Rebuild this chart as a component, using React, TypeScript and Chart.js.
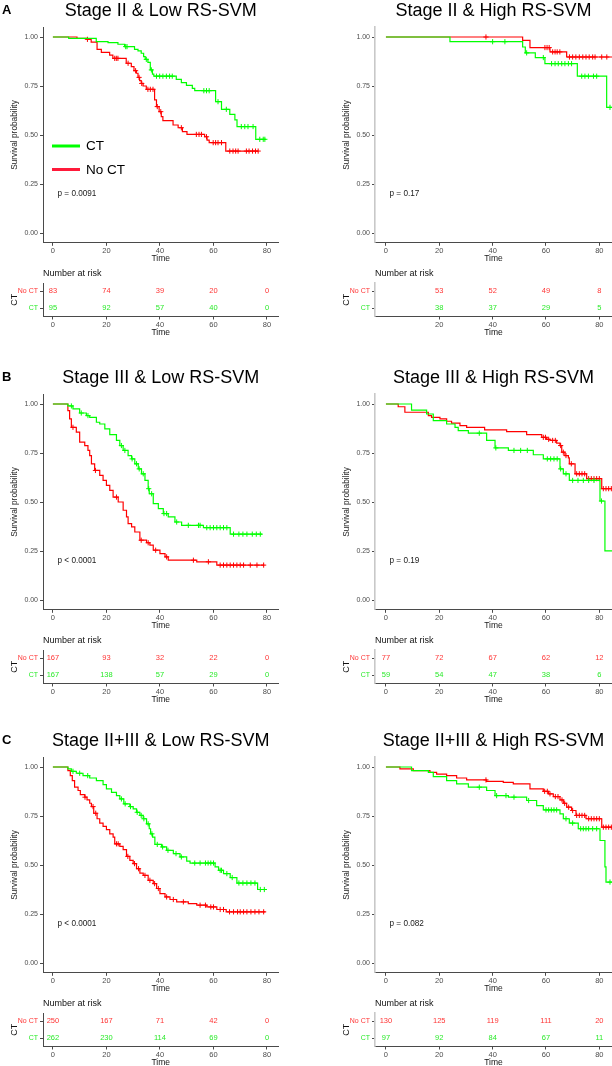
import React, { useEffect, useRef } from "react";
import { Chart, registerables } from "chart.js";
Chart.register(...registerables);

const FONT = "'Liberation Sans', Arial, Helvetica, sans-serif";
Chart.defaults.font.family = FONT;

const GREEN = "#00ff00";
const RED = "#ff0000";
const GREEN_TEXT = "#2bea2b";
const RED_TEXT = "#ff3535";
const AXIS_DARK = "#4a4a4a";
const AXIS_LIGHT = "#c8c8c8";
const TICK_TEXT = "#4d4d4d";

const TIME_TICKS = [0, 20, 40, 60, 80];
const TIME_TICKS_NO0 = [20, 40, 60, 80];
const SURV_TICKS = [0, 0.25, 0.5, 0.75, 1];
const GROUPS = ["No CT", "CT"];

// ---------- Panel A: Stage II & Low RS-SVM ----------
const A_LOW_CT_T = [5.9, 16.2, 20.6, 24.3, 26.8, 30.5, 31.8, 33.0, 33.9, 34.5, 35.5, 36.4, 37.2, 37.7, 46.1, 48.0, 49.9, 52.1, 53.0, 60.8, 63.0, 66.1, 68.0, 68.8, 75.8];
const A_LOW_CT_S = [0.993, 0.976, 0.971, 0.963, 0.951, 0.937, 0.929, 0.917, 0.9, 0.886, 0.871, 0.832, 0.811, 0.8, 0.784, 0.767, 0.753, 0.738, 0.726, 0.67, 0.631, 0.605, 0.577, 0.543, 0.478];
const A_LOW_CT_END = 79.5;
const A_LOW_CT_CENS = [27.2, 27.7, 34.9, 36.8, 38.7, 39.9, 41.1, 42.4, 43.6, 44.6, 56.4, 57.4, 58.4, 61.7, 64.8, 70.4, 71.7, 72.9, 74.8, 77.3, 78.6, 79.2];

const A_LOW_NOCT_T = [9.0, 12.7, 14.3, 16.5, 18.1, 21.2, 22.4, 27.4, 29.3, 30.3, 31.2, 31.8, 32.4, 33.0, 33.7, 34.9, 38.0, 38.7, 39.7, 40.5, 41.1, 44.9, 46.8, 48.4, 50.1, 56.7, 57.6, 58.4, 64.6];
const A_LOW_NOCT_S = [0.993, 0.988, 0.974, 0.937, 0.922, 0.908, 0.891, 0.866, 0.849, 0.828, 0.815, 0.794, 0.777, 0.763, 0.75, 0.733, 0.679, 0.645, 0.619, 0.594, 0.573, 0.551, 0.537, 0.517, 0.503, 0.491, 0.474, 0.461, 0.418];
const A_LOW_NOCT_END = 76.7;
const A_LOW_NOCT_CENS = [12.9, 23.1, 23.7, 24.3, 28.1, 30.9, 32.2, 33.2, 35.5, 36.4, 37.4, 39.0, 40.3, 48.0, 53.6, 54.6, 55.5, 57.4, 59.9, 60.8, 61.7, 63.0, 66.1, 67.3, 68.3, 69.2, 72.3, 73.3, 74.6, 75.7, 76.7];

const A_LOW_RISK_NOCT = [83, 74, 39, 20, 0];
const A_LOW_RISK_CT = [95, 92, 57, 40, 0];

// ---------- Panel A: Stage II & High RS-SVM ----------
const A_HIGH_CT_T = [24.0, 51.25, 52.25, 56.0, 59.6, 71.75, 82.75];
const A_HIGH_CT_S = [0.976, 0.949, 0.919, 0.895, 0.864, 0.8, 0.641];
const A_HIGH_CT_END = 84.8;
const A_HIGH_CT_CENS = [40.0, 44.6, 52.75, 59.0, 62.1, 63.4, 64.6, 65.9, 67.1, 68.4, 69.6, 73.4, 74.6, 75.9, 77.8, 79.0, 84.0];

const A_HIGH_NOCT_T = [51.25, 54.0, 61.5, 67.75];
const A_HIGH_NOCT_S = [0.983, 0.946, 0.924, 0.898];
const A_HIGH_NOCT_END = 84.8;
const A_HIGH_NOCT_CENS = [37.5, 59.6, 60.4, 61.2, 62.5, 63.4, 64.2, 65.2, 68.8, 70.0, 71.2, 72.5, 73.8, 75.0, 76.2, 77.5, 78.4, 80.9, 82.8];

const A_HIGH_RISK_NOCT = [53, 52, 49, 8];
const A_HIGH_RISK_CT = [38, 37, 29, 5];

// ---------- Panel B: Stage III & Low RS-SVM ----------
const B_LOW_CT_T = [5.6, 7.5, 10.0, 12.5, 13.75, 16.25, 17.5, 19.4, 21.25, 23.75, 25.0, 26.25, 28.1, 29.4, 30.6, 31.9, 33.1, 34.4, 35.6, 36.0, 37.5, 39.4, 41.25, 43.1, 45.6, 48.1, 56.25, 66.25];
const B_LOW_CT_S = [0.99, 0.975, 0.954, 0.941, 0.932, 0.907, 0.898, 0.873, 0.844, 0.814, 0.788, 0.763, 0.737, 0.72, 0.695, 0.669, 0.644, 0.61, 0.568, 0.542, 0.492, 0.466, 0.441, 0.424, 0.398, 0.381, 0.369, 0.336];
const B_LOW_CT_END = 78.1;
const B_LOW_CT_CENS = [6.9, 10.6, 13.1, 25.6, 26.9, 29.6, 31.25, 32.25, 33.75, 35.8, 36.9, 41.5, 42.5, 46.25, 50.6, 54.4, 55.0, 57.5, 58.75, 60.0, 61.25, 62.5, 63.75, 65.0, 67.5, 69.5, 71.0, 72.5, 74.5, 76.0, 77.5];

const B_LOW_NOCT_T = [5.6, 6.25, 6.9, 8.75, 10.0, 11.9, 13.1, 13.75, 14.4, 15.6, 17.5, 18.75, 20.0, 21.25, 22.5, 24.4, 26.25, 27.5, 28.1, 29.4, 30.6, 32.5, 35.0, 36.25, 37.5, 40.0, 41.9, 43.1, 53.75, 61.25];
const B_LOW_NOCT_S = [0.966, 0.924, 0.881, 0.856, 0.805, 0.788, 0.763, 0.737, 0.695, 0.661, 0.636, 0.61, 0.585, 0.559, 0.525, 0.5, 0.458, 0.424, 0.39, 0.373, 0.347, 0.305, 0.292, 0.28, 0.254, 0.237, 0.22, 0.203, 0.195, 0.178];
const B_LOW_NOCT_END = 79.0;
const B_LOW_NOCT_CENS = [7.5, 15.9, 23.75, 33.0, 35.6, 38.4, 42.5, 52.5, 58.1, 62.5, 63.75, 65.0, 66.25, 67.5, 68.75, 70.0, 71.25, 73.75, 76.25, 78.75];

const B_LOW_RISK_NOCT = [167, 93, 32, 22, 0];
const B_LOW_RISK_CT = [167, 138, 57, 29, 0];

// ---------- Panel B: Stage III & High RS-SVM ----------
const B_HIGH_CT_T = [9.6, 15.25, 17.75, 22.75, 25.9, 27.1, 30.9, 37.75, 40.9, 45.9, 55.25, 59.0, 65.25, 66.5, 68.75, 80.25, 82.1];
const B_HIGH_CT_S = [0.969, 0.949, 0.915, 0.898, 0.881, 0.864, 0.851, 0.814, 0.776, 0.763, 0.741, 0.72, 0.669, 0.644, 0.61, 0.505, 0.251];
const B_HIGH_CT_END = 84.8;
const B_HIGH_CT_CENS = [35.0, 41.2, 48.0, 50.5, 53.0, 60.5, 61.75, 63.0, 64.2, 65.5, 67.5, 70.0, 72.0, 74.0, 76.0, 78.0, 80.8];

const B_HIGH_NOCT_T = [4.6, 7.1, 15.9, 17.1, 20.25, 22.75, 24.6, 27.75, 30.25, 37.0, 45.25, 52.75, 58.4, 60.25, 61.5, 64.0, 65.25, 65.9, 67.1, 68.4, 68.75, 70.9, 75.25, 80.9];
const B_HIGH_NOCT_S = [0.986, 0.958, 0.941, 0.932, 0.924, 0.912, 0.902, 0.89, 0.881, 0.868, 0.859, 0.844, 0.83, 0.82, 0.814, 0.8, 0.788, 0.754, 0.737, 0.725, 0.695, 0.644, 0.619, 0.568];
const B_HIGH_NOCT_END = 84.8;
const B_HIGH_NOCT_CENS = [59.0, 59.8, 61.0, 62.5, 63.5, 65.5, 66.5, 67.5, 69.5, 71.5, 72.5, 73.5, 74.5, 76.0, 77.0, 78.0, 79.0, 80.0, 81.5, 82.5, 83.5, 84.5];

const B_HIGH_RISK_NOCT = [77, 72, 67, 62, 12];
const B_HIGH_RISK_CT = [59, 54, 47, 38, 6];

// ---------- Panel C: Stage II+III & Low RS-SVM ----------
const C_LOW_CT_T = [5.6, 6.9, 8.75, 11.25, 13.75, 16.25, 18.75, 20.0, 21.9, 23.75, 25.0, 26.5, 28.75, 30.0, 31.25, 32.5, 33.75, 35.0, 36.0, 36.5, 37.25, 38.1, 40.6, 42.5, 45.0, 47.5, 50.0, 51.25, 60.6, 61.9, 63.75, 66.25, 68.75, 76.5];
const C_LOW_CT_S = [0.99, 0.978, 0.968, 0.956, 0.944, 0.93, 0.91, 0.888, 0.871, 0.854, 0.837, 0.812, 0.798, 0.786, 0.769, 0.753, 0.736, 0.71, 0.685, 0.659, 0.642, 0.605, 0.592, 0.575, 0.558, 0.541, 0.52, 0.51, 0.49, 0.473, 0.456, 0.436, 0.408, 0.375];
const C_LOW_CT_END = 80.0;
const C_LOW_CT_CENS = [7.5, 10.0, 13.0, 25.6, 27.0, 29.0, 31.5, 33.0, 34.0, 35.6, 37.0, 39.0, 41.0, 43.0, 46.0, 48.0, 53.0, 55.0, 57.0, 58.0, 59.0, 60.0, 62.5, 63.0, 65.0, 67.0, 69.5, 71.0, 72.5, 74.0, 75.5, 77.5, 79.0];

const C_LOW_NOCT_T = [5.6, 6.5, 7.25, 8.1, 9.4, 10.25, 11.9, 12.75, 13.75, 14.4, 15.25, 16.5, 17.5, 18.75, 20.0, 21.25, 22.5, 23.1, 25.0, 26.25, 27.5, 28.75, 30.0, 31.25, 32.5, 33.75, 35.6, 37.5, 38.75, 40.0, 41.9, 43.75, 46.25, 50.6, 53.75, 57.5, 61.25, 64.75];
const C_LOW_NOCT_S = [0.981, 0.956, 0.93, 0.897, 0.88, 0.859, 0.846, 0.832, 0.815, 0.798, 0.764, 0.736, 0.714, 0.697, 0.68, 0.659, 0.642, 0.608, 0.595, 0.578, 0.544, 0.524, 0.507, 0.481, 0.459, 0.447, 0.422, 0.405, 0.38, 0.354, 0.337, 0.324, 0.312, 0.303, 0.295, 0.286, 0.273, 0.261];
const C_LOW_NOCT_END = 79.4;
const C_LOW_NOCT_CENS = [12.0, 15.0, 16.0, 23.75, 24.4, 28.0, 30.5, 32.0, 34.4, 36.25, 38.0, 39.4, 42.5, 45.0, 48.75, 55.0, 57.0, 59.0, 60.0, 62.5, 63.75, 66.0, 67.5, 69.0, 70.0, 71.25, 72.5, 74.0, 75.5, 77.0, 78.75];

const C_LOW_RISK_NOCT = [250, 167, 71, 42, 0];
const C_LOW_RISK_CT = [262, 230, 114, 69, 0];

// ---------- Panel C: Stage II+III & High RS-SVM ----------
const C_HIGH_CT_T = [9.6, 15.9, 17.75, 22.75, 26.5, 30.9, 37.75, 40.9, 45.9, 52.75, 56.5, 59.0, 65.25, 66.5, 68.75, 72.1, 80.25, 82.1, 82.5];
const C_HIGH_CT_S = [0.981, 0.973, 0.951, 0.93, 0.914, 0.897, 0.88, 0.854, 0.846, 0.829, 0.803, 0.781, 0.761, 0.736, 0.714, 0.685, 0.625, 0.49, 0.413];
const C_HIGH_CT_END = 84.8;
const C_HIGH_CT_CENS = [35.0, 41.5, 45.0, 48.0, 53.5, 60.0, 61.0, 62.0, 63.0, 64.0, 67.5, 70.0, 73.0, 74.0, 75.0, 76.0, 77.5, 79.0, 84.0];

const C_HIGH_NOCT_T = [5.25, 10.25, 16.5, 19.0, 22.75, 26.5, 30.25, 37.75, 44.0, 47.75, 54.0, 59.0, 60.9, 62.75, 65.25, 66.5, 67.75, 69.6, 71.25, 75.0, 80.9];
const C_HIGH_NOCT_S = [0.99, 0.981, 0.973, 0.964, 0.956, 0.944, 0.934, 0.927, 0.922, 0.914, 0.888, 0.876, 0.863, 0.849, 0.832, 0.815, 0.795, 0.778, 0.753, 0.736, 0.693];
const C_HIGH_NOCT_END = 84.8;
const C_HIGH_NOCT_CENS = [37.5, 59.5, 60.5, 61.5, 63.5, 64.5, 66.0, 67.0, 68.5, 70.0, 71.5, 72.5, 73.5, 74.5, 76.0, 77.0, 78.0, 79.0, 80.0, 81.5, 82.5, 83.5, 84.5];

const C_HIGH_RISK_NOCT = [130, 125, 119, 111, 20];
const C_HIGH_RISK_CT = [97, 92, 84, 67, 11];

// ---------- structures ----------
type Curve = { t: number[]; s: number[]; end: number; cens: number[] };
type Panel = {
  col: 0 | 1;
  base: number;
  title: string;
  letter?: string;
  p: string;
  legend: boolean;
  ct: Curve;
  noct: Curve;
  riskTimes: number[];
  riskNoCT: number[];
  riskCT: number[];
};

const curve = (t: number[], s: number[], end: number, cens: number[]): Curve => ({ t, s, end, cens });

const PANELS: Panel[] = [
  { col: 0, base: 0, title: "Stage II & Low RS-SVM", letter: "A", p: "p = 0.0091", legend: true,
    ct: curve(A_LOW_CT_T, A_LOW_CT_S, A_LOW_CT_END, A_LOW_CT_CENS),
    noct: curve(A_LOW_NOCT_T, A_LOW_NOCT_S, A_LOW_NOCT_END, A_LOW_NOCT_CENS),
    riskTimes: TIME_TICKS, riskNoCT: A_LOW_RISK_NOCT, riskCT: A_LOW_RISK_CT },
  { col: 1, base: 0, title: "Stage II & High RS-SVM", p: "p = 0.17", legend: false,
    ct: curve(A_HIGH_CT_T, A_HIGH_CT_S, A_HIGH_CT_END, A_HIGH_CT_CENS),
    noct: curve(A_HIGH_NOCT_T, A_HIGH_NOCT_S, A_HIGH_NOCT_END, A_HIGH_NOCT_CENS),
    riskTimes: TIME_TICKS_NO0, riskNoCT: A_HIGH_RISK_NOCT, riskCT: A_HIGH_RISK_CT },
  { col: 0, base: 367, title: "Stage III & Low RS-SVM", letter: "B", p: "p < 0.0001", legend: false,
    ct: curve(B_LOW_CT_T, B_LOW_CT_S, B_LOW_CT_END, B_LOW_CT_CENS),
    noct: curve(B_LOW_NOCT_T, B_LOW_NOCT_S, B_LOW_NOCT_END, B_LOW_NOCT_CENS),
    riskTimes: TIME_TICKS, riskNoCT: B_LOW_RISK_NOCT, riskCT: B_LOW_RISK_CT },
  { col: 1, base: 367, title: "Stage III & High RS-SVM", p: "p = 0.19", legend: false,
    ct: curve(B_HIGH_CT_T, B_HIGH_CT_S, B_HIGH_CT_END, B_HIGH_CT_CENS),
    noct: curve(B_HIGH_NOCT_T, B_HIGH_NOCT_S, B_HIGH_NOCT_END, B_HIGH_NOCT_CENS),
    riskTimes: TIME_TICKS, riskNoCT: B_HIGH_RISK_NOCT, riskCT: B_HIGH_RISK_CT },
  { col: 0, base: 730, title: "Stage II+III & Low RS-SVM", letter: "C", p: "p < 0.0001", legend: false,
    ct: curve(C_LOW_CT_T, C_LOW_CT_S, C_LOW_CT_END, C_LOW_CT_CENS),
    noct: curve(C_LOW_NOCT_T, C_LOW_NOCT_S, C_LOW_NOCT_END, C_LOW_NOCT_CENS),
    riskTimes: TIME_TICKS, riskNoCT: C_LOW_RISK_NOCT, riskCT: C_LOW_RISK_CT },
  { col: 1, base: 730, title: "Stage II+III & High RS-SVM", p: "p = 0.082", legend: false,
    ct: curve(C_HIGH_CT_T, C_HIGH_CT_S, C_HIGH_CT_END, C_HIGH_CT_CENS),
    noct: curve(C_HIGH_NOCT_T, C_HIGH_NOCT_S, C_HIGH_NOCT_END, C_HIGH_NOCT_CENS),
    riskTimes: TIME_TICKS, riskNoCT: C_HIGH_RISK_NOCT, riskCT: C_HIGH_RISK_CT },
];

// right column canvas is wider than the page so its plot area runs to the page edge
const COLS = [
  { left: 0, width: 300, axisW: 43, padR: 21.5, xmin: -3.7, xmax: 84.3, yTitleX: 15, yLine: AXIS_DARK, yLineW: 1 },
  { left: 306, width: 315, axisW: 69, padR: 9, xmin: -4.1, xmax: 84.75, yTitleX: 41, yLine: AXIS_LIGHT, yLineW: 1.6 },
];

const PLOT_H = 268;
const PLOT_TOP_PAD = 27.2;
const PLOT_XAXIS_H = 25.2;
const TABLE_TOP = 262;
const TABLE_H = 84;
const TABLE_TOP_PAD = 21;
const TABLE_XAXIS_H = 29.5;

function stepValue(c: Curve, time: number): number {
  let v = 1;
  for (let i = 0; i < c.t.length; i++) if (c.t[i] <= time) v = c.s[i];
  return v;
}
function linePoints(c: Curve) {
  const pts = [{ x: 0, y: 1 }];
  for (let i = 0; i < c.t.length; i++) pts.push({ x: c.t[i], y: c.s[i] });
  pts.push({ x: c.end, y: c.s[c.s.length - 1] });
  return pts;
}
function censorPoints(c: Curve) {
  return c.cens.map((t) => ({ x: t, y: stepValue(c, t) }));
}

function xScaleOpts(col: typeof COLS[number], ticks: number[], height: number) {
  return {
    type: "linear" as const,
    min: col.xmin,
    max: col.xmax,
    afterBuildTicks: (s: any) => { s.ticks = ticks.map((v) => ({ value: v })); },
    afterFit: (s: any) => { s.height = height; },
    ticks: { autoSkip: false, maxRotation: 0, minRotation: 0, padding: 1, color: TICK_TEXT, font: { size: 7.5, family: FONT } },
    grid: { display: true, drawOnChartArea: false, drawTicks: true, tickLength: 3, color: AXIS_DARK, lineWidth: 1 },
    border: { display: true, color: AXIS_DARK, width: 1 },
  };
}

function makePlot(canvas: HTMLCanvasElement, p: Panel, col: typeof COLS[number]) {
  const textPlugin = {
    id: "kmText",
    afterDraw(chart: any) {
      const { ctx, chartArea: ca } = chart;
      const cx = (ca.left + ca.right) / 2;
      ctx.save();
      ctx.fillStyle = "#000";
      ctx.font = `18px ${FONT}`;
      ctx.textAlign = "center";
      ctx.textBaseline = "alphabetic";
      ctx.fillText(p.title, cx, 16);
      if (p.letter) {
        ctx.font = `bold 13px ${FONT}`;
        ctx.textAlign = "left";
        ctx.fillText(p.letter, 2, 14);
      }
      ctx.fillStyle = "#1a1a1a";
      ctx.textBaseline = "middle";
      ctx.textAlign = "center";
      ctx.font = `8.5px ${FONT}`;
      ctx.fillText("Time", cx, 258.7);
      ctx.save();
      ctx.translate(col.yTitleX, (ca.top + ca.bottom) / 2);
      ctx.rotate(-Math.PI / 2);
      ctx.font = `8.3px ${FONT}`;
      ctx.fillText("Survival probability", 0, 0);
      ctx.restore();
      ctx.textAlign = "left";
      ctx.font = `8.2px ${FONT}`;
      ctx.fillText(p.p, ca.left + 14.5, 194);
      if (p.legend) {
        const items = [
          { label: GROUPS[1], color: GREEN, y: 146 },
          { label: GROUPS[0], color: "#ff1a3a", y: 169.5 },
        ];
        items.forEach((it) => {
          ctx.strokeStyle = it.color;
          ctx.lineWidth = 3;
          ctx.beginPath();
          ctx.moveTo(52, it.y);
          ctx.lineTo(80, it.y);
          ctx.stroke();
          ctx.fillStyle = "#000";
          ctx.font = `13.5px ${FONT}`;
          ctx.fillText(it.label, 86, it.y + 0.5);
        });
      }
      ctx.restore();
    },
  };

  const lineDs = (c: Curve, color: string, order: number) => ({
    data: linePoints(c),
    borderColor: color,
    borderWidth: 1.2,
    stepped: true,
    pointRadius: 0,
    fill: false,
    order,
  });
  const censDs = (c: Curve, color: string, order: number) => ({
    data: censorPoints(c),
    showLine: false,
    pointStyle: "cross",
    pointRadius: 2.6,
    pointBorderWidth: 1,
    pointBorderColor: color,
    borderColor: color,
    backgroundColor: color,
    order,
  });

  return new Chart(canvas, {
    type: "line",
    data: {
      datasets: [
        lineDs(p.ct, GREEN, 0),
        censDs(p.ct, GREEN, 0),
        lineDs(p.noct, RED, 1),
        censDs(p.noct, RED, 1),
      ] as any,
    },
    options: {
      responsive: false,
      animation: false,
      devicePixelRatio: 1,
      events: [],
      layout: { padding: { top: PLOT_TOP_PAD, right: col.padR, left: 0, bottom: 0 } },
      plugins: { legend: { display: false }, tooltip: { enabled: false }, title: { display: false } },
      scales: {
        x: xScaleOpts(col, TIME_TICKS, PLOT_XAXIS_H) as any,
        y: {
          type: "linear",
          min: -0.05,
          max: 1.05,
          afterBuildTicks: (s: any) => { s.ticks = SURV_TICKS.map((v) => ({ value: v })); },
          afterFit: (s: any) => { s.width = col.axisW; },
          ticks: { autoSkip: false, padding: 2, color: TICK_TEXT, font: { size: 7, family: FONT }, callback: (v: any) => Number(v).toFixed(2) },
          grid: { display: true, drawOnChartArea: false, drawTicks: true, tickLength: 3, color: AXIS_DARK, lineWidth: 1 },
          border: { display: true, color: col.yLine, width: col.yLineW },
        } as any,
      },
    },
    plugins: [textPlugin],
  });
}

function makeTable(canvas: HTMLCanvasElement, p: Panel, col: typeof COLS[number]) {
  const rowValue = (g: number) => (g === 0 ? 1.5 : 0.5);
  const tablePlugin = {
    id: "riskTable",
    afterDraw(chart: any) {
      const { ctx, chartArea: ca, scales } = chart;
      ctx.save();
      ctx.fillStyle = "#111";
      ctx.font = `9px ${FONT}`;
      ctx.textAlign = "left";
      ctx.textBaseline = "middle";
      ctx.fillText("Number at risk", ca.left, 12);
      ctx.textAlign = "center";
      ctx.font = `7.5px ${FONT}`;
      const rows = [p.riskNoCT, p.riskCT];
      rows.forEach((vals, g) => {
        ctx.fillStyle = g === 0 ? RED_TEXT : GREEN_TEXT;
        const y = scales.y.getPixelForValue(rowValue(g));
        vals.forEach((v, i) => {
          ctx.fillText(String(v), scales.x.getPixelForValue(p.riskTimes[i]), y);
        });
      });
      ctx.fillStyle = "#111";
      ctx.font = `8.5px ${FONT}`;
      ctx.fillText("Time", (ca.left + ca.right) / 2, 71);
      ctx.save();
      ctx.translate(col.yTitleX, (ca.top + ca.bottom) / 2);
      ctx.rotate(-Math.PI / 2);
      ctx.font = `9px ${FONT}`;
      ctx.fillText("CT", 0, 0);
      ctx.restore();
      ctx.restore();
    },
  };
  return new Chart(canvas, {
    type: "line",
    data: { datasets: [] },
    options: {
      responsive: false,
      animation: false,
      devicePixelRatio: 1,
      events: [],
      layout: { padding: { top: TABLE_TOP_PAD, right: col.padR, left: 0, bottom: 0 } },
      plugins: { legend: { display: false }, tooltip: { enabled: false } },
      scales: {
        x: xScaleOpts(col, p.riskTimes, TABLE_XAXIS_H) as any,
        y: {
          type: "linear",
          min: 0,
          max: 2,
          afterBuildTicks: (s: any) => { s.ticks = [{ value: 0.5 }, { value: 1.5 }]; },
          afterFit: (s: any) => { s.width = col.axisW; },
          ticks: {
            autoSkip: false,
            padding: 2,
            font: { size: 7, family: FONT },
            color: (c: any) => (c.tick && c.tick.value === 1.5 ? RED_TEXT : GREEN_TEXT),
            callback: (v: any) => (Number(v) === 1.5 ? GROUPS[0] : GROUPS[1]),
          },
          grid: { display: true, drawOnChartArea: false, drawTicks: true, tickLength: 3, color: AXIS_DARK, lineWidth: 1 },
          border: { display: true, color: col.yLine, width: col.yLineW },
        } as any,
      },
    },
    plugins: [tablePlugin],
  });
}

export default function App() {
  const refs = useRef<(HTMLCanvasElement | null)[]>([]);
  useEffect(() => {
    document.body.style.margin = "0";
    const charts: Chart[] = [];
    PANELS.forEach((p, i) => {
      const col = COLS[p.col];
      const a = refs.current[2 * i];
      const b = refs.current[2 * i + 1];
      if (a) charts.push(makePlot(a, p, col));
      if (b) charts.push(makeTable(b, p, col));
    });
    return () => charts.forEach((c) => c.destroy());
  }, []);

  return (
    <div style={{ position: "absolute", left: 0, top: 0, width: 612, height: 1066, background: "#fff", overflow: "hidden" }}>
      {PANELS.map((p, i) => {
        const col = COLS[p.col];
        return (
          <React.Fragment key={i}>
            <canvas
              ref={(el) => { refs.current[2 * i] = el; }}
              width={col.width}
              height={PLOT_H}
              style={{ position: "absolute", left: col.left, top: p.base, width: col.width, height: PLOT_H }}
            />
            <canvas
              ref={(el) => { refs.current[2 * i + 1] = el; }}
              width={col.width}
              height={TABLE_H}
              style={{ position: "absolute", left: col.left, top: p.base + TABLE_TOP, width: col.width, height: TABLE_H }}
            />
          </React.Fragment>
        );
      })}
    </div>
  );
}
